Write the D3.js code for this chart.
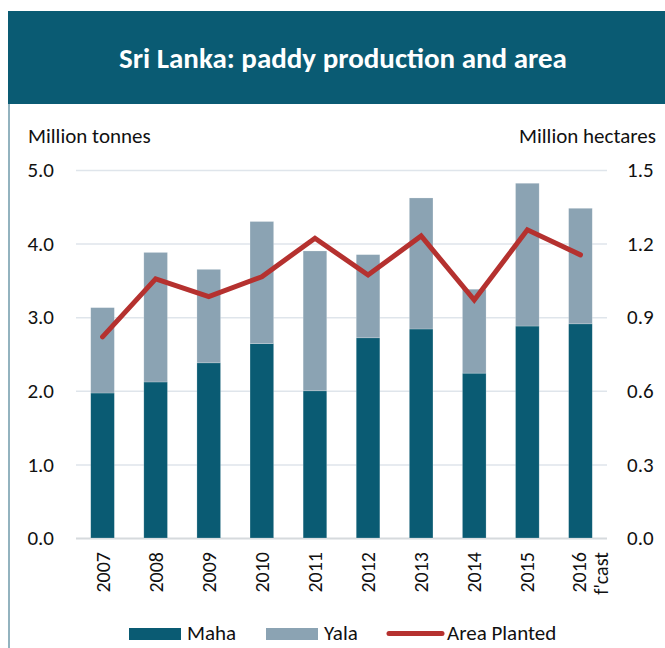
<!DOCTYPE html>
<html>
<head>
<meta charset="utf-8">
<script src="https://cdn.jsdelivr.net/npm/d3@7"></script>
<style>
  body { margin: 0; background: #fff; }
  text { font-family: Carlito, Lato, sans-serif; fill: #111; }
</style>
</head>
<body>
<div id="chart"></div>
<script>
/** chart data */
let years = ["2007", "2008", "2009", "2010", "2011", "2012", "2013", "2014", "2015", "2016"];
let maha = [1.97, 2.12, 2.38, 2.64, 2.00, 2.72, 2.84, 2.24, 2.88, 2.91];
let yala = [1.16, 1.76, 1.27, 1.66, 1.90, 1.13, 1.78, 1.14, 1.94, 1.57];
let areaPlanted = [0.82, 1.056, 0.984, 1.065, 1.222, 1.072, 1.231, 0.970, 1.256, 1.154];
let leftTicks = [0, 1, 2, 3, 4, 5];
let rightTicks = [0, 0.3, 0.6, 0.9, 1.2, 1.5];

let width = 665, height = 648;
let mahaColor = "#0a5b73", yalaColor = "#8ba3b3", lineColor = "#b5312f";

let svg = d3.select("#chart").append("svg")
    .attr("width", width)
    .attr("height", height);

/** frame and title banner */
svg.append("line")
    .attr("x1", 9).attr("x2", 9)
    .attr("y1", 11).attr("y2", height)
    .style("stroke", "#6f9aaa")
    .style("stroke-width", 1.5);

svg.append("rect")
    .attr("x", 8).attr("y", 11)
    .attr("width", width - 8).attr("height", 93)
    .attr("fill", mahaColor);

svg.append("text")
    .attr("x", 343).attr("y", 68)
    .attr("text-anchor", "middle")
    .style("fill", "#fff")
    .style("font-weight", "bold")
    .style("font-size", "29px")
    .text("Sri Lanka: paddy production and area");

/** scales */
let plot = { left: 76, right: 607, top: 170, bottom: 538 };

let xScale = d3.scaleBand()
    .domain(years)
    .range([plot.left, plot.right])
    .paddingInner(0.555)
    .paddingOuter(0.2775);

let yScale = d3.scaleLinear().domain([0, 5]).range([plot.bottom, plot.top]);
let y2Scale = d3.scaleLinear().domain([0, 1.5]).range([plot.bottom, plot.top]);

/** gridlines + left axis */
let yAxis = d3.axisLeft(yScale)
    .tickValues(leftTicks)
    .tickSize(plot.left - plot.right)
    .tickPadding(22)
    .tickFormat(d3.format(".1f"));

let gy = svg.append("g")
    .attr("transform", `translate(${plot.left},0)`)
    .call(yAxis);
gy.select(".domain").remove();
gy.selectAll(".tick line")
    .style("stroke", "#dfe5eb")
    .style("stroke-width", 1.5);
gy.selectAll(".tick").filter(d => d === 0).select("line").style("stroke", "#d6dadd").style("stroke-width", 2);
gy.selectAll(".tick text").style("font-size", "21px").style("fill", "#111");

/** right axis */
let y2Axis = d3.axisRight(y2Scale)
    .tickValues(rightTicks)
    .tickSize(0)
    .tickPadding(20)
    .tickFormat(d3.format(".1f"));
let gy2 = svg.append("g")
    .attr("transform", `translate(${plot.right},0)`)
    .call(y2Axis);
gy2.select(".domain").remove();
gy2.selectAll(".tick text").style("font-size", "21px").style("fill", "#111");

/** axis titles */
svg.append("text")
    .attr("x", 28).attr("y", 143)
    .style("font-size", "21px")
    .text("Million tonnes");
svg.append("text")
    .attr("x", 656).attr("y", 143)
    .attr("text-anchor", "end")
    .style("font-size", "21px")
    .text("Million hectares");

/** stacked bars */
let rows = years.map((y, i) => ({ year: y, maha: maha[i], yala: yala[i] }));
let stacked = d3.stack().keys(["maha", "yala"])(rows);
let colorFor = { maha: mahaColor, yala: yalaColor };

svg.append("g").selectAll("g")
    .data(stacked)
    .enter().append("g")
        .attr("fill", d => colorFor[d.key])
        .selectAll("rect")
        .data(d => d)
        .enter().append("rect")
            .attr("x", d => xScale(d.data.year))
            .attr("y", d => yScale(d[1]))
            .attr("width", xScale.bandwidth())
            .attr("height", d => yScale(d[0]) - yScale(d[1]))
            .style("stroke", "rgba(255,255,255,0.35)")
            .style("stroke-width", 0.6);

/** area planted line */
let line = d3.line()
    .x((d, i) => xScale(years[i]) + xScale.bandwidth() / 2)
    .y(d => y2Scale(d));

svg.append("path")
    .datum(areaPlanted)
    .attr("d", line)
    .attr("fill", "none")
    .style("stroke", lineColor)
    .style("stroke-width", 5)
    .style("stroke-linejoin", "miter")
    .style("stroke-linecap", "round");

/** x labels, rotated */
let xl = svg.append("g").selectAll("text")
    .data(years)
    .enter().append("text")
        .attr("transform", d => `translate(${xScale(d) + xScale.bandwidth() / 2 + 7},552) rotate(-90)`)
        .attr("text-anchor", "end")
        .style("font-size", "20px");
xl.text(d => d);
xl.filter(d => d === "2016")
    .attr("transform", d => `translate(${xScale(d) + xScale.bandwidth() / 2 + 6},552) rotate(-90)`)
    .append("tspan")
    .attr("x", 0).attr("dy", 22)
    .text("f'cast");

/** legend */
let legend = svg.append("g");
let legendItems = [
    { label: "Maha", color: mahaColor, x: 129, type: "rect" },
    { label: "Yala", color: yalaColor, x: 266, type: "rect" },
    { label: "Area Planted", color: lineColor, x: 389, type: "line" }
];
legendItems.forEach(function (d) {
    if (d.type === "rect") {
        legend.append("rect")
            .attr("x", d.x).attr("y", 628)
            .attr("width", 52).attr("height", 12)
            .attr("fill", d.color);
    } else {
        legend.append("line")
            .attr("x1", d.x).attr("x2", d.x + 53)
            .attr("y1", 633.5).attr("y2", 633.5)
            .style("stroke", d.color)
            .style("stroke-width", 5)
            .style("stroke-linecap", "round");
    }
    legend.append("text")
        .attr("x", d.x + 58).attr("y", 640)
        .style("font-size", "21px")
        .text(d.label);
});
</script>
</body>
</html>
